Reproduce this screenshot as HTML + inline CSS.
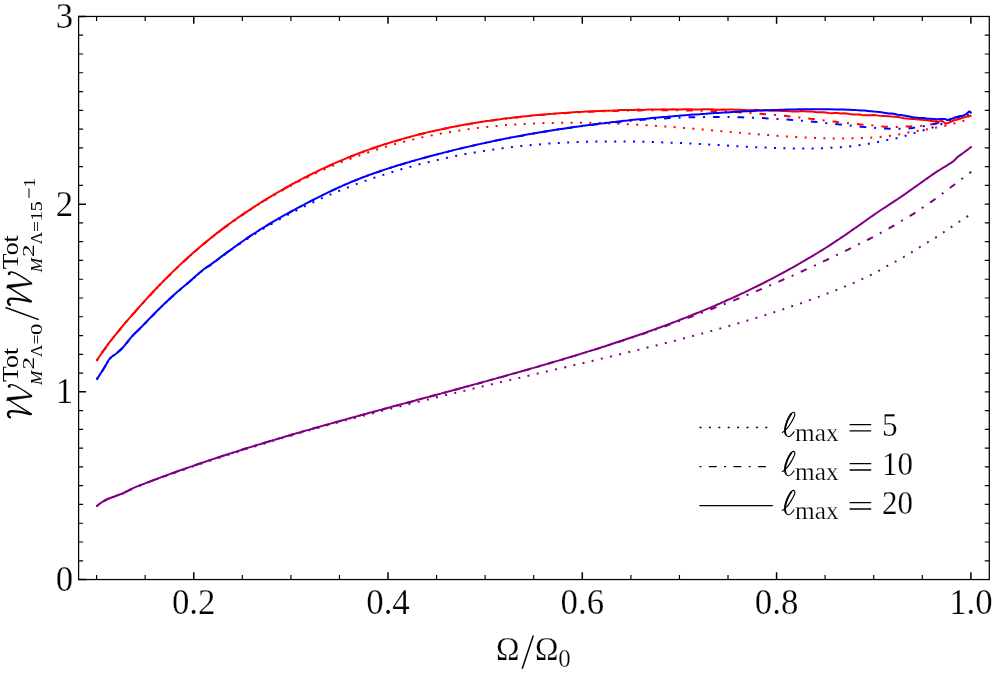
<!DOCTYPE html>
<html><head><meta charset="utf-8"><title>plot</title>
<style>
html,body{margin:0;padding:0;background:#fff;}
body{width:997px;height:677px;overflow:hidden;font-family:"Liberation Serif",serif;}
svg{display:block;will-change:transform;opacity:0.9999;}
svg text{font-family:"Liberation Serif",serif;fill:#000;stroke:#fff;stroke-width:0.25px;}
svg .ylab text{stroke:none;}
</style></head><body>
<svg width="997" height="677" viewBox="0 0 997 677">
<rect width="997" height="677" fill="#fff"/>
<g>
<path d="M96.6,360.7 L99.6,356.2 L102.6,351.8 L103.0,351.2 L105.6,347.6 L108.6,343.5 L111.1,340.2 L111.6,339.6 L114.6,335.8 L117.6,332.2 L120.1,329.2 L120.6,328.6 L123.6,324.9 L126.1,321.9 L126.6,321.3 L129.6,317.9 L131.2,316.1 L132.6,314.5 L135.6,311.1 L138.2,308.1 L138.6,307.7 L141.6,304.3 L143.0,302.8 L144.6,301.0 L146.1,299.4 L147.6,297.7 L150.0,295.1 L150.6,294.5 L153.6,291.3 L156.6,288.2 L159.6,285.1 L160.1,284.5 L162.6,282.0 L165.6,279.0 L168.6,276.0 L170.1,274.5 L171.6,273.1 L174.6,270.2 L177.6,267.3 L180.2,264.9 L180.6,264.5 L183.6,261.7 L186.6,259.0 L189.6,256.3 L190.2,255.8 L192.6,253.6 L195.6,251.0 L198.6,248.4 L200.2,247.1 L201.6,245.9 L204.6,243.4 L205.0,243.1 L207.6,241.0 L210.6,238.5 L213.6,236.1 L215.0,235.0 L216.6,233.8 L219.6,231.5 L222.6,229.2 L225.1,227.3 L225.6,227.0 L228.6,224.8 L231.6,222.6 L234.6,220.4 L235.1,220.1 L237.6,218.3 L240.6,216.3 L243.6,214.2 L245.2,213.1 L246.6,212.2 L249.6,210.2 L252.6,208.3 L255.2,206.6 L255.6,206.3 L258.6,204.5 L261.6,202.6 L264.6,200.7 L265.2,200.4 L267.6,198.9 L270.6,197.2 L273.6,195.4 L275.3,194.4 L276.6,193.7 L279.6,192.0 L282.6,190.3 L285.3,188.8 L285.6,188.6 L288.6,187.0 L291.6,185.4 L294.6,183.8 L295.4,183.4 L297.6,182.2 L300.0,181.0 L300.6,180.7 L303.6,179.2 L305.0,178.5 L306.6,177.7 L309.6,176.3 L310.0,176.1 L312.6,174.8 L315.6,173.4 L318.6,172.0 L320.1,171.3 L321.6,170.6 L324.6,169.3 L327.6,168.0 L330.1,166.9 L330.6,166.7 L333.6,165.4 L336.6,164.2 L339.6,162.9 L340.2,162.7 L342.6,161.7 L345.6,160.5 L348.6,159.4 L350.2,158.8 L351.6,158.2 L354.6,157.1 L357.6,156.0 L360.2,155.1 L360.6,154.9 L363.6,153.9 L366.6,152.9 L369.6,151.9 L370.3,151.6 L372.6,150.9 L375.6,149.9 L378.6,149.0 L380.3,148.4 L381.6,148.0 L384.6,147.1 L387.6,146.2 L390.4,145.4 L390.6,145.4 L393.6,144.5 L396.6,143.7 L399.6,142.9 L400.0,142.8 L402.6,142.1 L405.6,141.3 L408.6,140.6 L411.6,139.8 L414.3,139.2 L414.6,139.1 L417.6,138.4 L420.6,137.8 L423.6,137.1 L426.6,136.5 L429.6,135.8 L432.4,135.3 L432.6,135.2 L435.6,134.6 L438.6,134.1 L441.6,133.5 L444.6,133.0 L447.6,132.4 L450.6,131.9 L451.4,131.8 L453.6,131.4 L456.6,131.0 L459.6,130.5 L462.6,130.0 L465.6,129.6 L468.6,129.2 L469.5,129.1 L471.6,128.8 L474.6,128.4 L477.6,128.0 L480.6,127.7 L483.6,127.3 L486.6,127.0 L488.6,126.8 L489.6,126.7 L492.6,126.4 L495.6,126.1 L498.6,125.8 L501.6,125.5 L504.6,125.3 L506.7,125.1 L507.6,125.1 L510.6,124.8 L513.6,124.6 L516.6,124.4 L519.6,124.2 L522.6,124.0 L525.6,123.9 L525.7,123.9 L528.6,123.7 L531.6,123.6 L534.6,123.4 L537.6,123.3 L540.6,123.2 L543.6,123.1 L544.1,123.1 L546.6,123.0 L549.6,123.0 L552.6,122.9 L555.6,122.8 L558.6,122.8 L561.6,122.7 L563.2,122.7 L564.6,122.7 L567.6,122.7 L570.6,122.7 L573.6,122.7 L576.6,122.7 L579.6,122.8 L581.8,122.8 L582.6,122.8 L585.6,122.8 L588.6,122.8 L591.6,122.9 L594.6,123.0 L597.6,123.0 L600.3,123.1 L600.6,123.1 L603.6,123.2 L606.6,123.3 L609.6,123.4 L612.6,123.5 L615.6,123.6 L618.6,123.7 L619.4,123.8 L621.6,123.9 L624.6,124.0 L627.6,124.2 L630.6,124.3 L633.6,124.5 L636.6,124.6 L637.9,124.7 L639.6,124.8 L642.6,125.0 L645.6,125.2 L648.6,125.4 L651.6,125.6 L654.6,125.8 L656.5,125.9 L657.6,126.0 L660.6,126.2 L663.6,126.4 L666.6,126.6 L669.6,126.8 L672.6,127.0 L675.2,127.2 L675.6,127.3 L678.6,127.5 L681.6,127.8 L684.6,128.0 L687.6,128.2 L690.6,128.5 L693.6,128.7 L694.1,128.8 L696.6,129.0 L699.6,129.3 L702.6,129.5 L703.0,129.5 L705.6,129.8 L708.6,130.0 L711.6,130.3 L714.6,130.6 L717.6,130.8 L720.6,131.1 L722.1,131.2 L723.6,131.3 L726.6,131.6 L729.6,131.9 L732.6,132.1 L735.6,132.4 L738.6,132.7 L741.2,132.9 L741.6,132.9 L744.6,133.2 L747.6,133.4 L750.6,133.7 L753.6,133.9 L756.6,134.2 L759.6,134.4 L762.6,134.7 L765.6,134.9 L768.6,135.1 L771.6,135.4 L774.6,135.6 L777.6,135.8 L778.3,135.9 L780.6,136.0 L783.6,136.2 L786.6,136.4 L789.6,136.6 L792.6,136.8 L795.6,137.0 L797.0,137.0 L798.6,137.1 L801.6,137.3 L804.6,137.4 L807.6,137.6 L810.6,137.7 L813.6,137.8 L815.5,137.9 L816.6,137.9 L819.6,138.1 L822.6,138.2 L825.6,138.2 L828.6,138.3 L831.6,138.4 L833.9,138.4 L834.6,138.4 L837.6,138.4 L840.6,138.4 L843.6,138.4 L846.6,138.4 L849.6,138.3 L852.6,138.3 L855.6,138.3 L858.6,138.2 L861.6,138.1 L864.6,138.0 L867.6,137.9 L870.6,137.7 L870.7,137.7 L873.6,137.5 L876.6,137.3 L879.6,137.0 L880.0,137.0 L882.6,136.7 L885.6,136.4 L888.6,136.1 L889.1,136.0 L891.6,135.7 L894.6,135.2 L897.6,134.7 L898.6,134.5 L900.6,134.1 L903.6,133.5 L906.6,132.9 L907.9,132.6 L909.6,132.3 L912.6,131.7 L915.6,131.2 L917.0,131.0 L918.6,130.7 L921.6,130.3 L924.6,129.8 L926.0,129.6 L927.6,129.3 L930.6,128.7 L933.6,128.1 L935.1,127.8 L936.6,127.5 L939.6,126.9 L942.6,126.3 L944.2,126.0 L945.6,125.7 L948.6,124.9 L951.6,124.1 L953.3,123.6 L954.6,123.3 L957.6,122.5 L960.6,121.7 L962.4,121.2 L963.6,120.9 L966.6,120.1 L969.6,119.2 L971.2,118.8" stroke="#ff0000" stroke-width="2.0" fill="none" stroke-dasharray="2 7.385"/>
<path d="M96.7,379.5 L99.7,374.9 L102.7,370.2 L104.1,368.0 L105.7,365.3 L108.7,360.0 L110.1,358.2 L111.7,356.8 L114.7,354.8 L116.1,353.8 L117.7,352.4 L120.7,349.7 L123.1,347.3 L123.7,346.6 L126.7,343.0 L129.7,339.2 L132.2,336.2 L132.7,335.7 L135.7,332.6 L138.7,329.8 L140.2,328.3 L141.7,326.8 L144.7,323.7 L147.7,320.6 L150.2,318.1 L150.7,317.6 L153.7,314.5 L156.7,311.5 L159.7,308.5 L160.3,307.9 L162.7,305.6 L164.1,304.2 L165.7,302.7 L168.7,299.9 L170.1,298.6 L171.7,297.2 L174.7,294.5 L177.7,291.9 L180.2,289.7 L180.7,289.3 L183.7,286.7 L186.7,284.2 L189.7,281.7 L190.2,281.3 L192.7,279.1 L195.7,276.4 L198.2,274.3 L198.7,273.8 L201.7,271.3 L204.3,269.2 L204.7,268.9 L207.7,267.0 L210.3,265.3 L210.7,265.0 L213.7,262.8 L216.7,260.5 L219.7,258.2 L220.3,257.7 L222.7,255.9 L225.7,253.8 L228.7,251.6 L230.4,250.4 L231.7,249.5 L234.7,247.4 L237.7,245.3 L239.0,244.4 L240.7,243.3 L243.7,241.3 L245.2,240.3 L246.7,239.3 L249.7,237.3 L252.7,235.4 L255.2,233.8 L255.7,233.5 L258.7,231.6 L261.7,229.8 L264.7,228.0 L265.2,227.7 L267.7,226.2 L270.7,224.4 L273.7,222.7 L275.3,221.8 L276.7,221.0 L279.7,219.3 L282.7,217.7 L285.3,216.3 L285.7,216.0 L288.7,214.4 L291.7,212.9 L294.7,211.3 L295.4,210.9 L297.7,209.8 L300.7,208.3 L303.7,206.8 L305.0,206.1 L306.7,205.3 L309.7,203.9 L310.0,203.7 L312.7,202.5 L315.7,201.1 L318.7,199.7 L320.1,199.1 L321.7,198.3 L324.7,197.0 L327.7,195.7 L330.1,194.7 L330.7,194.4 L333.7,193.1 L336.7,191.9 L339.7,190.6 L340.2,190.4 L342.7,189.4 L345.7,188.2 L348.7,187.1 L350.2,186.5 L351.7,185.9 L354.7,184.8 L357.7,183.6 L360.2,182.7 L360.7,182.5 L363.7,181.5 L366.7,180.4 L369.7,179.3 L370.3,179.1 L372.7,178.3 L375.7,177.3 L378.7,176.3 L380.3,175.8 L381.7,175.3 L384.7,174.4 L387.7,173.4 L390.4,172.6 L390.7,172.5 L393.7,171.6 L396.7,170.7 L399.7,169.8 L400.0,169.7 L402.7,168.9 L405.7,168.1 L408.7,167.2 L410.7,166.7 L411.7,166.4 L414.7,165.6 L417.7,164.8 L420.7,164.0 L423.7,163.3 L426.7,162.5 L429.0,162.0 L429.7,161.8 L432.7,161.1 L435.7,160.4 L438.7,159.7 L441.7,159.0 L444.7,158.3 L447.4,157.7 L447.7,157.7 L450.7,157.1 L453.7,156.4 L456.7,155.8 L459.7,155.2 L462.7,154.7 L465.5,154.1 L465.7,154.1 L468.7,153.5 L471.7,153.0 L474.7,152.5 L477.7,152.0 L480.7,151.5 L483.7,151.0 L484.2,150.9 L486.7,150.5 L489.7,150.1 L492.7,149.6 L495.7,149.2 L498.7,148.8 L501.7,148.4 L502.7,148.2 L504.7,148.0 L507.7,147.6 L510.7,147.2 L513.7,146.9 L516.7,146.5 L519.7,146.2 L521.3,146.0 L522.7,145.9 L525.7,145.6 L528.7,145.3 L531.7,145.0 L534.7,144.7 L537.7,144.5 L540.1,144.3 L540.7,144.2 L543.7,144.0 L546.7,143.7 L549.7,143.5 L552.7,143.3 L555.7,143.1 L558.7,143.0 L558.8,143.0 L561.7,142.8 L564.7,142.6 L567.7,142.5 L570.7,142.3 L573.7,142.2 L576.7,142.1 L577.6,142.1 L579.7,142.0 L582.7,141.9 L585.7,141.8 L588.7,141.7 L591.7,141.6 L594.7,141.6 L596.3,141.5 L597.7,141.5 L600.7,141.5 L603.7,141.5 L606.7,141.4 L609.7,141.4 L612.7,141.4 L615.4,141.4 L615.7,141.4 L618.7,141.4 L621.7,141.4 L624.7,141.4 L627.7,141.5 L630.7,141.5 L633.7,141.6 L634.1,141.6 L636.7,141.6 L639.7,141.7 L642.7,141.7 L645.7,141.8 L648.7,141.9 L651.7,142.0 L652.9,142.0 L654.7,142.1 L657.7,142.2 L660.7,142.3 L663.7,142.4 L666.7,142.5 L669.7,142.6 L671.6,142.7 L672.7,142.7 L675.7,142.9 L678.7,143.0 L681.7,143.1 L684.7,143.3 L687.7,143.4 L690.3,143.6 L690.7,143.6 L693.7,143.7 L696.7,143.9 L699.7,144.0 L702.7,144.2 L705.7,144.4 L708.7,144.5 L709.2,144.6 L711.7,144.7 L714.7,144.9 L717.7,145.1 L718.7,145.1 L720.7,145.2 L723.7,145.4 L726.7,145.6 L729.7,145.7 L732.7,145.9 L735.7,146.1 L737.6,146.2 L738.7,146.3 L741.7,146.4 L744.7,146.6 L747.7,146.7 L750.7,146.9 L753.7,147.1 L756.2,147.2 L756.7,147.2 L759.7,147.3 L762.7,147.5 L765.7,147.6 L768.7,147.7 L771.7,147.9 L774.7,148.0 L774.9,148.0 L777.7,148.1 L780.7,148.2 L783.7,148.3 L786.7,148.4 L789.7,148.4 L792.7,148.4 L793.8,148.4 L795.7,148.4 L798.7,148.4 L801.7,148.4 L804.7,148.4 L807.7,148.4 L810.7,148.4 L812.4,148.4 L813.7,148.4 L816.7,148.4 L819.7,148.3 L822.7,148.2 L825.7,148.1 L828.7,147.9 L831.5,147.8 L831.7,147.8 L834.7,147.6 L837.7,147.4 L840.7,147.2 L843.7,146.9 L846.7,146.6 L849.7,146.4 L850.2,146.3 L852.7,146.0 L855.7,145.7 L858.7,145.3 L861.7,144.9 L864.7,144.5 L867.7,144.0 L868.7,143.8 L870.7,143.5 L873.7,142.9 L876.7,142.3 L878.1,142.0 L879.7,141.7 L882.7,141.1 L885.7,140.4 L887.3,140.1 L888.7,139.8 L891.7,139.2 L894.7,138.6 L896.7,138.2 L897.7,138.0 L900.7,137.2 L903.7,136.3 L905.7,135.7 L906.7,135.4 L909.7,134.5 L912.7,133.5 L914.8,132.9 L915.7,132.6 L918.7,131.7 L921.7,130.9 L923.6,130.3 L924.7,130.0 L927.7,129.1 L930.7,128.2 L932.7,127.5 L933.7,127.1 L936.7,126.0 L939.7,124.8 L941.2,124.2 L942.7,123.6 L945.7,122.3 L948.7,121.0 L950.0,120.5 L951.7,119.8 L954.7,118.7 L957.7,117.7 L960.0,117.0 L960.7,116.8 L963.7,116.0 L966.7,115.4 L969.7,114.8 L971.5,114.5" stroke="#0000ff" stroke-width="2.0" fill="none" stroke-dasharray="2 7.41"/>
<path d="M96.5,506.5 L99.5,504.2 L102.5,502.1 L105.5,500.3 L107.1,499.5 L108.5,498.9 L111.5,497.8 L114.5,496.7 L115.1,496.5 L117.5,495.6 L120.5,494.5 L123.1,493.5 L123.5,493.3 L126.5,491.8 L129.5,490.1 L132.2,488.8 L132.5,488.6 L135.5,487.3 L138.5,486.1 L140.2,485.4 L141.5,484.9 L144.5,483.7 L147.5,482.6 L150.2,481.6 L150.5,481.4 L153.5,480.3 L156.5,479.3 L159.5,478.2 L160.3,477.9 L162.5,477.1 L165.5,476.0 L168.5,474.9 L170.3,474.3 L171.5,473.9 L174.5,472.8 L177.5,471.8 L180.4,470.8 L180.5,470.7 L183.5,469.7 L186.5,468.6 L189.5,467.6 L190.0,467.4 L192.5,466.6 L195.5,465.6 L198.5,464.5 L201.5,463.5 L202.5,463.2 L204.5,462.5 L207.5,461.5 L210.5,460.5 L213.5,459.5 L216.5,458.6 L219.5,457.6 L220.6,457.2 L222.5,456.6 L225.5,455.6 L228.5,454.7 L231.5,453.7 L234.5,452.8 L237.5,451.8 L240.5,450.9 L240.6,450.8 L243.5,449.9 L246.5,449.0 L249.5,448.1 L252.5,447.1 L255.5,446.2 L258.5,445.3 L260.7,444.6 L261.5,444.4 L264.5,443.5 L267.5,442.6 L270.5,441.7 L273.5,440.8 L276.5,439.9 L279.5,439.0 L280.0,438.8 L282.5,438.1 L285.5,437.2 L288.5,436.3 L290.1,435.9 L291.5,435.5 L294.5,434.6 L297.5,433.7 L300.5,432.9 L303.5,432.0 L306.5,431.2 L309.5,430.3 L310.2,430.1 L312.5,429.5 L315.5,428.6 L318.5,427.8 L321.5,427.0 L324.5,426.2 L327.5,425.3 L330.2,424.6 L330.5,424.5 L333.5,423.7 L336.5,422.9 L339.5,422.1 L342.5,421.3 L345.5,420.4 L348.5,419.6 L350.3,419.2 L351.5,418.8 L354.5,418.0 L357.5,417.3 L360.5,416.5 L363.5,415.7 L366.5,414.9 L369.5,414.1 L370.4,413.9 L372.5,413.3 L375.5,412.6 L378.5,411.8 L381.5,411.0 L384.5,410.3 L387.5,409.5 L390.5,408.7 L393.5,408.0 L396.5,407.2 L399.5,406.5 L402.5,405.7 L405.5,405.0 L408.5,404.2 L410.6,403.7 L411.5,403.5 L414.5,402.7 L417.5,402.0 L420.5,401.3 L423.5,400.5 L426.5,399.8 L429.5,399.1 L430.6,398.8 L432.5,398.3 L435.5,397.6 L438.5,396.9 L441.5,396.2 L444.5,395.4 L447.5,394.7 L450.5,394.0 L450.7,393.9 L453.5,393.3 L456.5,392.6 L459.5,391.8 L462.5,391.1 L464.4,390.7 L465.5,390.4 L468.5,389.7 L471.5,389.0 L474.5,388.3 L477.5,387.6 L480.5,386.9 L483.1,386.3 L483.5,386.2 L486.5,385.5 L489.5,384.8 L492.5,384.1 L495.5,383.4 L498.5,382.7 L501.2,382.0 L501.5,382.0 L504.5,381.3 L507.5,380.6 L510.5,379.9 L513.5,379.2 L516.5,378.5 L519.5,377.8 L519.6,377.8 L522.5,377.1 L525.5,376.4 L528.5,375.7 L531.5,375.0 L534.5,374.3 L537.5,373.6 L537.9,373.5 L540.5,372.9 L543.5,372.2 L546.5,371.5 L549.5,370.8 L552.5,370.1 L555.5,369.4 L556.4,369.2 L558.5,368.7 L561.5,368.0 L564.5,367.4 L567.5,366.7 L570.5,366.0 L573.5,365.3 L574.5,365.0 L576.5,364.6 L579.5,363.9 L582.5,363.2 L585.5,362.5 L588.5,361.8 L591.5,361.0 L592.9,360.7 L594.5,360.3 L597.5,359.6 L600.5,358.9 L603.5,358.2 L606.5,357.5 L609.5,356.8 L611.0,356.4 L612.5,356.1 L615.5,355.4 L618.5,354.6 L621.5,353.9 L624.5,353.2 L627.5,352.5 L629.3,352.0 L630.5,351.8 L633.5,351.0 L636.5,350.3 L639.5,349.6 L642.5,348.8 L645.5,348.1 L647.7,347.5 L648.5,347.3 L651.5,346.6 L654.5,345.9 L656.8,345.3 L657.5,345.1 L660.5,344.3 L663.5,343.6 L666.5,342.8 L669.5,342.1 L672.5,341.3 L675.0,340.7 L675.5,340.5 L678.5,339.8 L681.5,339.0 L684.5,338.2 L687.5,337.4 L690.5,336.6 L693.0,335.9 L693.5,335.8 L696.5,335.0 L699.5,334.2 L702.5,333.4 L705.5,332.6 L708.5,331.8 L711.0,331.1 L711.5,330.9 L714.5,330.1 L717.5,329.3 L720.5,328.4 L723.5,327.6 L726.5,326.7 L729.4,325.9 L729.5,325.8 L732.5,325.0 L735.5,324.1 L738.4,323.3 L738.5,323.2 L741.5,322.3 L744.5,321.4 L747.4,320.6 L747.5,320.5 L750.5,319.6 L753.5,318.7 L756.5,317.8 L759.5,316.9 L762.5,315.9 L765.5,315.0 L768.5,314.0 L771.5,313.1 L774.5,312.1 L777.5,311.1 L780.5,310.1 L783.5,309.2 L783.6,309.1 L786.5,308.2 L789.5,307.1 L792.5,306.1 L792.6,306.1 L795.5,305.1 L798.5,304.0 L801.5,303.0 L801.6,303.0 L804.5,301.9 L807.5,300.9 L810.5,299.8 L810.7,299.7 L813.5,298.7 L816.5,297.6 L819.3,296.6 L819.5,296.5 L822.5,295.4 L825.5,294.2 L828.2,293.2 L828.5,293.1 L831.5,291.9 L834.5,290.8 L837.2,289.7 L837.5,289.6 L840.5,288.4 L843.5,287.2 L846.5,285.9 L849.5,284.7 L852.5,283.4 L853.7,282.9 L855.5,282.1 L858.5,280.8 L861.5,279.4 L864.5,278.0 L867.5,276.6 L870.5,275.1 L873.5,273.6 L876.5,272.0 L879.5,270.3 L882.5,268.6 L885.5,266.9 L887.4,265.9 L888.5,265.3 L891.5,263.7 L894.5,262.1 L895.4,261.6 L897.5,260.5 L900.5,258.8 L903.5,257.2 L903.8,257.0 L906.5,255.4 L909.5,253.6 L911.9,252.1 L912.5,251.7 L915.5,249.8 L918.5,247.9 L919.9,247.0 L921.5,246.0 L924.5,244.2 L927.5,242.4 L927.9,242.2 L930.5,240.7 L933.5,238.9 L936.0,237.4 L936.5,237.1 L939.5,235.1 L942.5,233.0 L944.0,232.0 L945.5,231.0 L948.5,228.9 L951.5,226.9 L951.6,226.8 L954.5,224.9 L957.5,222.9 L959.6,221.5 L960.5,220.9 L963.5,218.9 L966.5,216.9 L967.5,216.3 L969.5,215.1 L971.5,213.9" stroke="#800080" stroke-width="2.0" fill="none" stroke-dasharray="2 7.41"/>
<path d="M96.6,360.9 L99.6,356.4 L102.6,352.0 L103.0,351.4 L105.6,347.8 L108.6,343.7 L111.1,340.4 L111.6,339.8 L114.6,336.0 L117.6,332.3 L120.1,329.3 L120.6,328.7 L123.6,325.0 L126.1,322.0 L126.6,321.5 L129.6,318.1 L131.2,316.3 L132.6,314.7 L135.6,311.3 L138.2,308.3 L138.6,307.9 L141.6,304.5 L143.0,303.0 L144.6,301.2 L146.1,299.6 L147.6,297.9 L150.0,295.3 L150.6,294.7 L153.6,291.5 L156.6,288.3 L159.6,285.2 L160.1,284.7 L162.6,282.1 L165.6,279.1 L168.6,276.1 L170.1,274.6 L171.6,273.1 L174.6,270.2 L177.6,267.3 L180.2,264.8 L180.6,264.5 L183.6,261.7 L186.6,258.9 L189.6,256.2 L190.2,255.7 L192.6,253.5 L195.6,250.9 L198.6,248.3 L200.2,246.9 L201.6,245.7 L204.6,243.2 L205.0,242.9 L207.6,240.8 L210.6,238.3 L213.6,236.0 L215.0,234.8 L216.6,233.6 L219.6,231.3 L222.6,229.0 L225.1,227.1 L225.6,226.8 L228.6,224.5 L231.6,222.4 L234.6,220.2 L235.1,219.9 L237.6,218.1 L240.6,216.0 L243.6,214.0 L245.2,212.9 L246.6,212.0 L249.6,210.0 L252.6,208.0 L255.2,206.3 L255.6,206.1 L258.6,204.2 L261.6,202.3 L264.6,200.4 L265.2,200.1 L267.6,198.6 L270.6,196.8 L273.6,195.0 L275.3,194.0 L276.6,193.2 L279.6,191.5 L282.6,189.8 L285.3,188.2 L285.6,188.1 L288.6,186.4 L291.6,184.7 L294.6,183.1 L295.4,182.7 L297.6,181.5 L300.0,180.2 L300.6,179.9 L303.6,178.3 L305.0,177.6 L306.6,176.8 L309.6,175.2 L310.0,175.0 L312.6,173.8 L315.6,172.3 L318.6,170.8 L320.1,170.1 L321.6,169.4 L324.6,168.0 L327.6,166.6 L330.1,165.5 L330.6,165.2 L333.6,163.9 L336.6,162.6 L339.6,161.3 L340.2,161.0 L342.6,160.0 L345.6,158.8 L348.6,157.5 L350.2,156.9 L351.6,156.3 L354.6,155.2 L357.6,154.0 L360.2,153.0 L360.6,152.9 L363.6,151.7 L366.6,150.6 L369.6,149.6 L370.3,149.3 L372.6,148.5 L375.6,147.5 L378.6,146.5 L380.3,145.9 L381.6,145.5 L384.6,144.5 L387.6,143.5 L390.4,142.7 L390.6,142.6 L393.6,141.7 L396.6,140.8 L399.6,139.9 L400.0,139.8 L402.6,139.1 L405.6,138.2 L408.6,137.4 L411.6,136.6 L414.6,135.8 L417.6,135.0 L420.3,134.3 L420.6,134.2 L423.6,133.5 L426.6,132.8 L429.6,132.1 L432.6,131.4 L435.6,130.7 L438.6,130.0 L440.4,129.6 L441.6,129.4 L444.6,128.7 L447.6,128.1 L450.6,127.5 L453.6,126.9 L456.6,126.3 L459.6,125.8 L460.5,125.6 L462.6,125.2 L465.6,124.7 L468.6,124.2 L471.6,123.6 L474.6,123.1 L477.6,122.7 L480.6,122.2 L483.6,121.7 L486.6,121.3 L489.6,120.8 L492.6,120.4 L495.6,120.0 L498.6,119.6 L500.6,119.3 L501.6,119.2 L504.6,118.8 L507.6,118.4 L510.6,118.1 L513.6,117.7 L516.6,117.4 L519.6,117.0 L520.4,117.0 L522.6,116.7 L525.6,116.4 L528.6,116.1 L531.6,115.8 L534.6,115.5 L537.6,115.3 L540.1,115.0 L540.6,115.0 L543.6,114.7 L546.6,114.5 L549.6,114.3 L552.6,114.0 L555.6,113.8 L558.6,113.6 L560.2,113.5 L561.6,113.4 L564.6,113.2 L567.6,113.0 L570.6,112.8 L573.6,112.6 L576.6,112.5 L579.6,112.3 L580.2,112.3 L582.6,112.1 L585.6,112.0 L588.6,111.8 L591.6,111.7 L594.6,111.6 L597.6,111.5 L600.3,111.4 L600.6,111.3 L603.6,111.2 L606.6,111.1 L609.6,111.0 L612.6,110.9 L615.6,110.9 L618.6,110.8 L620.4,110.7 L621.6,110.7 L624.6,110.6 L627.6,110.6 L630.6,110.5 L633.6,110.5 L636.6,110.4 L639.6,110.4 L640.5,110.4 L642.6,110.3 L645.6,110.3 L648.6,110.3 L651.6,110.3 L654.6,110.3 L657.6,110.2 L660.6,110.2 L663.6,110.2 L666.6,110.2 L669.6,110.3 L672.6,110.3 L675.6,110.3 L678.6,110.3 L680.6,110.4 L681.6,110.4 L684.6,110.4 L687.6,110.4 L690.6,110.5 L693.6,110.6 L696.6,110.6 L699.6,110.7 L700.0,110.7 L702.6,110.8 L705.6,110.9 L708.6,111.0 L711.6,111.1 L714.6,111.2 L717.6,111.3 L720.0,111.4 L720.6,111.4 L723.6,111.5 L726.6,111.7 L729.6,111.8 L732.6,111.9 L735.6,112.1 L738.6,112.3 L740.2,112.4 L741.6,112.4 L744.6,112.6 L747.6,112.8 L750.6,113.0 L753.6,113.2 L756.6,113.4 L759.6,113.7 L760.2,113.7 L762.6,113.9 L765.6,114.2 L768.6,114.4 L771.6,114.7 L774.6,114.9 L777.6,115.2 L780.3,115.5 L780.6,115.5 L783.6,115.8 L786.6,116.1 L789.6,116.4 L792.6,116.7 L795.6,117.1 L798.6,117.4 L800.4,117.6 L801.6,117.7 L804.6,118.1 L807.6,118.4 L810.6,118.8 L813.6,119.1 L816.6,119.5 L819.6,119.8 L820.5,119.9 L822.6,120.2 L825.6,120.5 L828.6,120.9 L831.6,121.3 L834.6,121.6 L837.6,122.0 L840.6,122.3 L843.6,122.6 L846.6,123.0 L849.6,123.3 L852.6,123.6 L855.6,123.9 L858.6,124.2 L860.6,124.4 L861.6,124.5 L864.6,124.7 L867.6,125.0 L870.6,125.2 L873.6,125.5 L876.6,125.7 L877.0,125.8 L879.6,126.1 L882.6,126.5 L885.0,126.7 L885.6,126.7 L888.6,126.9 L891.6,127.0 L894.6,127.0 L895.0,127.0 L897.6,126.9 L900.6,126.8 L903.6,126.6 L905.0,126.5 L906.6,126.5 L909.6,126.4 L912.6,126.3 L915.6,126.3 L917.0,126.2 L918.6,126.1 L921.6,125.8 L924.6,125.5 L927.6,125.1 L928.0,125.0 L930.6,124.5 L933.6,123.9 L936.6,123.4 L938.0,123.3 L939.6,123.3 L942.6,123.4 L945.6,123.4 L946.6,123.4 L948.6,122.9 L950.9,121.8 L951.6,121.5 L954.6,120.1 L955.7,119.7 L957.6,119.1 L960.6,118.4 L961.8,118.1 L963.6,117.5 L966.6,116.6 L967.8,116.3 L969.6,116.0 L971.5,115.7" stroke="#ff0000" stroke-width="2.0" fill="none" stroke-dasharray="2 8 6.6 7.9"/>
<path d="M96.7,379.6 L99.7,375.0 L102.7,370.3 L104.1,368.1 L105.7,365.3 L108.7,360.1 L110.1,358.3 L111.7,356.9 L114.7,354.8 L116.1,353.8 L117.7,352.4 L120.7,349.7 L123.1,347.3 L123.7,346.7 L126.7,343.0 L129.7,339.2 L132.2,336.2 L132.7,335.7 L135.7,332.6 L138.7,329.8 L140.2,328.3 L141.7,326.8 L144.7,323.7 L147.7,320.6 L150.2,318.0 L150.7,317.5 L153.7,314.5 L156.7,311.4 L159.7,308.4 L160.3,307.8 L162.7,305.5 L164.1,304.1 L165.7,302.6 L168.7,299.8 L170.1,298.5 L171.7,297.1 L174.7,294.4 L177.7,291.7 L180.2,289.6 L180.7,289.1 L183.7,286.6 L186.7,284.1 L189.7,281.5 L190.2,281.1 L192.7,278.9 L195.7,276.2 L198.2,274.1 L198.7,273.6 L201.7,271.0 L204.3,268.9 L204.7,268.6 L207.7,266.7 L210.3,265.1 L210.7,264.8 L213.7,262.6 L216.7,260.3 L219.7,258.0 L220.3,257.6 L222.7,255.8 L225.7,253.6 L228.7,251.3 L230.4,250.1 L231.7,249.1 L234.7,246.9 L237.7,244.8 L239.0,243.8 L240.7,242.6 L243.7,240.5 L245.2,239.5 L246.7,238.5 L249.7,236.5 L252.7,234.5 L255.2,232.8 L255.7,232.5 L258.7,230.6 L261.7,228.7 L264.7,226.9 L265.2,226.6 L267.7,225.1 L270.7,223.3 L273.7,221.5 L275.3,220.6 L276.7,219.8 L279.7,218.0 L282.7,216.3 L285.3,214.9 L285.7,214.7 L288.7,213.0 L291.7,211.3 L294.7,209.7 L295.4,209.3 L297.7,208.1 L300.7,206.5 L303.7,204.9 L305.0,204.2 L306.7,203.3 L309.7,201.7 L310.0,201.6 L312.7,200.2 L315.7,198.7 L318.7,197.1 L320.1,196.4 L321.7,195.6 L324.7,194.2 L327.7,192.7 L330.1,191.5 L330.7,191.2 L333.7,189.8 L336.7,188.4 L339.7,187.0 L340.2,186.8 L342.7,185.7 L345.7,184.4 L348.7,183.1 L350.2,182.5 L351.7,181.8 L354.7,180.6 L357.7,179.4 L360.2,178.5 L360.7,178.3 L363.7,177.1 L366.7,176.0 L369.7,174.9 L370.3,174.7 L372.7,173.8 L375.7,172.8 L378.7,171.8 L380.3,171.2 L381.7,170.7 L384.7,169.7 L387.7,168.8 L390.4,167.9 L390.7,167.8 L393.7,166.9 L396.7,165.9 L399.7,165.0 L400.0,164.9 L402.7,164.1 L405.7,163.2 L408.7,162.3 L411.7,161.4 L414.7,160.6 L417.7,159.7 L420.3,159.0 L420.7,158.9 L423.7,158.0 L426.7,157.2 L429.7,156.4 L432.7,155.6 L435.7,154.8 L438.7,154.0 L440.4,153.5 L441.7,153.2 L444.7,152.4 L447.7,151.7 L450.7,150.9 L453.7,150.2 L456.7,149.4 L459.7,148.7 L460.5,148.5 L462.7,148.0 L465.7,147.3 L468.7,146.6 L471.7,145.9 L474.7,145.2 L477.7,144.6 L480.6,143.9 L480.7,143.9 L483.7,143.2 L486.7,142.6 L489.7,141.9 L492.7,141.3 L495.7,140.7 L498.7,140.1 L500.6,139.7 L501.7,139.5 L504.7,138.9 L507.7,138.3 L510.7,137.7 L513.7,137.1 L516.7,136.6 L519.7,136.0 L520.4,135.9 L522.7,135.4 L525.7,134.9 L528.7,134.4 L531.7,133.8 L534.7,133.3 L537.7,132.8 L540.1,132.4 L540.7,132.3 L543.7,131.8 L546.7,131.3 L549.7,130.8 L552.7,130.3 L555.7,129.9 L558.7,129.4 L560.2,129.2 L561.7,129.0 L564.7,128.5 L567.7,128.1 L570.7,127.7 L573.7,127.2 L576.7,126.8 L579.7,126.4 L580.2,126.4 L582.7,126.0 L585.7,125.6 L588.7,125.3 L591.7,124.9 L594.7,124.5 L597.7,124.2 L600.3,123.9 L600.7,123.8 L603.7,123.5 L606.7,123.1 L609.7,122.8 L612.7,122.5 L615.7,122.2 L618.7,121.9 L620.4,121.7 L621.7,121.6 L624.7,121.3 L627.7,121.0 L630.7,120.8 L633.7,120.5 L636.7,120.3 L639.7,120.0 L640.5,120.0 L642.7,119.8 L645.7,119.6 L648.7,119.3 L651.7,119.1 L654.7,118.9 L657.7,118.8 L660.6,118.6 L660.7,118.6 L663.7,118.4 L666.7,118.3 L669.7,118.1 L672.7,118.0 L675.7,117.8 L678.7,117.7 L680.6,117.6 L681.7,117.6 L684.7,117.5 L687.7,117.4 L690.7,117.3 L693.7,117.2 L696.7,117.2 L699.7,117.1 L700.0,117.1 L702.7,117.1 L705.7,117.1 L708.7,117.0 L711.7,117.0 L714.7,117.0 L717.7,117.0 L720.1,117.0 L720.7,117.0 L723.7,117.0 L726.7,117.1 L729.7,117.1 L732.7,117.2 L735.7,117.2 L738.7,117.3 L740.2,117.3 L741.7,117.3 L744.7,117.4 L747.7,117.5 L750.7,117.6 L753.7,117.8 L756.7,117.9 L759.7,118.0 L760.2,118.0 L762.7,118.1 L765.7,118.3 L768.7,118.4 L771.7,118.6 L774.7,118.8 L777.7,119.0 L780.3,119.1 L780.7,119.2 L783.7,119.4 L786.7,119.6 L789.7,119.8 L792.7,120.0 L795.7,120.2 L798.7,120.5 L800.4,120.6 L801.7,120.7 L804.7,121.0 L807.7,121.2 L810.7,121.5 L813.7,121.8 L816.7,122.1 L819.7,122.3 L820.5,122.4 L822.7,122.6 L825.7,123.0 L828.7,123.3 L831.7,123.6 L834.7,123.9 L837.7,124.3 L840.6,124.6 L840.7,124.6 L843.7,124.9 L846.7,125.3 L849.7,125.6 L852.7,125.9 L855.7,126.3 L858.7,126.6 L860.6,126.7 L861.7,126.8 L864.7,127.1 L867.7,127.4 L870.7,127.6 L873.7,127.8 L876.7,128.1 L879.7,128.2 L880.7,128.3 L882.7,128.4 L885.7,128.6 L888.7,128.7 L889.0,128.7 L891.7,128.7 L894.7,128.7 L897.7,128.7 L898.8,128.7 L900.7,128.7 L903.7,128.6 L906.7,128.5 L908.5,128.4 L909.7,128.3 L912.7,128.0 L915.7,127.5 L915.8,127.5 L918.7,127.1 L921.7,126.5 L923.0,126.3 L924.7,126.0 L927.7,125.4 L930.7,124.8 L931.5,124.6 L933.7,124.1 L936.7,123.2 L938.8,122.6 L939.7,122.3 L942.7,121.1 L944.8,120.5 L945.7,120.4 L947.2,120.2 L948.7,119.8 L949.7,119.4 L951.7,118.6 L954.5,117.5 L954.7,117.4 L957.7,116.8 L960.7,116.3 L961.8,116.0 L963.7,115.4 L966.6,113.9 L966.7,113.8 L969.0,111.7 L969.7,111.8 L971.5,113.1" stroke="#0000ff" stroke-width="2.0" fill="none" stroke-dasharray="2 8 6.6 7.9"/>
<path d="M96.5,506.3 L99.5,504.0 L102.5,501.9 L105.5,500.1 L107.1,499.3 L108.5,498.7 L111.5,497.6 L114.5,496.5 L115.1,496.3 L117.5,495.4 L120.5,494.3 L123.1,493.3 L123.5,493.1 L126.5,491.6 L129.5,490.1 L132.2,488.7 L132.5,488.6 L135.5,487.3 L138.5,486.1 L140.2,485.4 L141.5,484.9 L144.5,483.7 L147.5,482.5 L150.2,481.5 L150.5,481.4 L153.5,480.3 L156.5,479.1 L159.5,478.0 L160.3,477.7 L162.5,476.9 L165.5,475.8 L168.5,474.7 L170.3,474.0 L171.5,473.6 L174.5,472.5 L177.5,471.4 L180.4,470.4 L180.5,470.3 L183.5,469.3 L186.5,468.2 L189.5,467.2 L190.0,467.0 L192.5,466.1 L195.5,465.1 L198.5,464.0 L201.5,463.0 L202.5,462.7 L204.5,462.0 L207.5,461.0 L210.5,460.0 L213.5,459.0 L216.5,458.0 L219.5,457.0 L220.6,456.6 L222.5,456.0 L225.5,455.0 L228.5,454.1 L231.5,453.1 L234.5,452.1 L237.5,451.2 L240.5,450.2 L240.6,450.2 L243.5,449.3 L246.5,448.3 L249.5,447.4 L252.5,446.5 L255.5,445.6 L258.5,444.6 L260.7,444.0 L261.5,443.7 L264.5,442.8 L267.5,441.9 L270.5,441.0 L273.5,440.1 L276.5,439.2 L279.5,438.3 L280.0,438.2 L282.5,437.4 L285.5,436.6 L288.5,435.7 L290.1,435.2 L291.5,434.8 L294.5,433.9 L297.5,433.1 L300.5,432.2 L303.5,431.3 L306.5,430.5 L309.5,429.6 L310.2,429.4 L312.5,428.8 L315.5,427.9 L318.5,427.1 L321.5,426.2 L324.5,425.4 L327.5,424.5 L330.2,423.8 L330.5,423.7 L333.5,422.9 L336.5,422.0 L339.5,421.2 L342.5,420.4 L345.5,419.5 L348.5,418.7 L350.3,418.2 L351.5,417.9 L354.5,417.1 L357.5,416.2 L360.5,415.4 L363.5,414.6 L366.5,413.8 L369.5,413.0 L370.4,412.7 L372.5,412.2 L375.5,411.4 L378.5,410.5 L381.5,409.7 L384.5,408.9 L387.5,408.1 L390.5,407.3 L393.5,406.5 L396.5,405.7 L399.5,404.9 L402.5,404.1 L405.5,403.3 L408.5,402.5 L410.6,401.9 L411.5,401.7 L414.5,400.9 L417.5,400.0 L420.5,399.2 L423.5,398.4 L426.5,397.6 L429.5,396.8 L430.6,396.5 L432.5,396.0 L435.5,395.2 L438.5,394.4 L441.5,393.6 L444.5,392.8 L447.5,392.0 L450.5,391.1 L450.7,391.1 L453.5,390.3 L456.5,389.5 L459.5,388.7 L462.5,387.9 L465.5,387.1 L468.5,386.2 L470.0,385.8 L471.5,385.4 L474.5,384.6 L477.5,383.8 L480.1,383.1 L480.5,383.0 L483.5,382.1 L486.5,381.3 L489.5,380.5 L492.5,379.6 L495.5,378.8 L498.5,378.0 L500.2,377.5 L501.5,377.1 L504.5,376.3 L507.5,375.4 L510.5,374.6 L513.5,373.7 L516.5,372.9 L519.5,372.0 L520.2,371.8 L522.5,371.2 L525.5,370.3 L528.5,369.5 L531.5,368.6 L534.5,367.7 L537.5,366.9 L540.3,366.0 L540.5,366.0 L543.5,365.1 L546.5,364.2 L549.5,363.3 L552.5,362.4 L555.5,361.6 L558.5,360.7 L560.4,360.1 L561.5,359.8 L564.5,358.9 L567.5,358.0 L570.5,357.1 L573.5,356.1 L576.5,355.2 L579.5,354.3 L580.5,354.0 L582.5,353.4 L585.5,352.4 L588.5,351.5 L591.5,350.6 L594.5,349.6 L597.5,348.7 L600.5,347.7 L600.6,347.7 L603.5,346.8 L606.5,345.8 L609.5,344.9 L612.5,343.9 L615.5,342.9 L618.5,342.0 L620.6,341.3 L621.5,341.0 L624.5,340.0 L627.5,339.0 L630.5,338.0 L633.5,337.0 L636.5,336.0 L639.5,335.0 L640.7,334.6 L642.5,334.0 L645.5,333.0 L648.5,331.9 L651.5,330.9 L654.5,329.9 L657.5,328.8 L660.0,327.9 L660.5,327.8 L663.5,326.7 L666.5,325.7 L669.5,324.6 L670.1,324.4 L672.5,323.5 L675.5,322.4 L678.5,321.4 L681.5,320.3 L684.5,319.2 L687.5,318.1 L690.2,317.1 L690.5,317.0 L693.5,315.9 L696.5,314.8 L699.5,313.6 L702.5,312.5 L705.5,311.4 L708.5,310.2 L711.5,309.1 L712.3,308.8 L714.5,307.9 L717.5,306.8 L720.5,305.6 L723.5,304.4 L726.5,303.2 L729.5,302.1 L732.5,300.9 L735.5,299.7 L736.4,299.3 L738.5,298.5 L741.5,297.3 L744.5,296.0 L747.5,294.8 L750.5,293.6 L753.5,292.3 L756.5,291.1 L759.5,289.8 L762.5,288.6 L765.5,287.3 L768.5,286.0 L771.5,284.7 L774.5,283.5 L777.5,282.2 L780.5,280.9 L781.6,280.4 L783.5,279.5 L786.5,278.2 L789.5,276.9 L792.5,275.6 L795.5,274.2 L798.5,272.9 L801.5,271.5 L803.7,270.5 L804.5,270.2 L807.5,268.8 L810.5,267.4 L813.5,266.0 L815.1,265.3 L816.5,264.6 L819.5,263.2 L822.5,261.8 L825.5,260.4 L825.7,260.3 L828.5,259.0 L831.5,257.5 L834.5,256.1 L837.5,254.6 L840.5,253.2 L843.5,251.7 L846.5,250.3 L849.5,248.8 L852.5,247.4 L855.5,245.9 L858.5,244.4 L858.9,244.2 L861.5,242.9 L864.5,241.4 L867.5,239.9 L870.3,238.5 L870.5,238.4 L873.5,236.8 L876.5,235.1 L879.5,233.5 L880.6,232.9 L882.5,231.9 L885.5,230.3 L888.5,228.6 L891.4,227.0 L891.5,226.9 L894.5,225.2 L897.5,223.4 L900.5,221.5 L901.9,220.7 L903.5,219.8 L906.5,218.0 L909.5,216.2 L912.5,214.4 L913.5,213.8 L915.5,212.5 L918.5,210.4 L921.5,208.3 L922.6,207.6 L924.5,206.3 L927.5,204.4 L930.5,202.4 L933.5,200.3 L936.5,198.1 L939.5,195.8 L942.5,193.6 L942.6,193.5 L945.5,191.3 L948.5,189.1 L951.5,186.8 L953.6,185.2 L954.5,184.5 L957.5,182.2 L960.5,179.9 L962.0,178.8 L963.5,177.7 L966.5,175.4 L969.5,173.1 L971.3,171.8" stroke="#800080" stroke-width="2.0" fill="none" stroke-dasharray="2 8 6.6 7.9" stroke-dashoffset="1.3"/>
<path d="M96.6,360.7 L99.6,356.2 L102.6,351.8 L103.0,351.2 L105.6,347.6 L108.6,343.5 L111.1,340.2 L111.6,339.6 L114.6,335.8 L117.6,332.1 L120.1,329.1 L120.6,328.5 L123.6,324.8 L126.1,321.8 L126.6,321.3 L129.6,317.9 L131.2,316.1 L132.6,314.5 L135.6,311.0 L138.2,308.1 L138.6,307.7 L141.6,304.3 L143.0,302.8 L144.6,301.0 L146.1,299.4 L147.6,297.7 L150.0,295.1 L150.6,294.5 L153.6,291.3 L156.6,288.1 L159.6,285.0 L160.1,284.5 L162.6,281.9 L165.6,278.9 L168.6,275.9 L170.1,274.4 L171.6,272.9 L174.6,270.0 L177.6,267.1 L180.2,264.6 L180.6,264.3 L183.6,261.5 L186.6,258.7 L189.6,256.0 L190.2,255.5 L192.6,253.3 L195.6,250.7 L198.6,248.1 L200.2,246.8 L201.6,245.6 L204.6,243.1 L205.0,242.7 L207.6,240.6 L210.6,238.2 L213.6,235.8 L215.0,234.7 L216.6,233.4 L219.6,231.1 L222.6,228.8 L225.1,226.9 L225.6,226.6 L228.6,224.4 L231.6,222.2 L234.6,220.0 L235.1,219.7 L237.6,217.9 L240.6,215.9 L243.6,213.8 L245.2,212.7 L246.6,211.8 L249.6,209.8 L252.6,207.8 L255.2,206.1 L255.6,205.9 L258.6,204.0 L261.6,202.1 L264.6,200.2 L265.2,199.9 L267.6,198.4 L270.6,196.6 L273.6,194.8 L275.3,193.8 L276.6,193.0 L279.6,191.3 L282.6,189.5 L285.3,188.0 L285.6,187.8 L288.6,186.2 L291.6,184.5 L294.6,182.9 L295.4,182.4 L297.6,181.3 L300.0,180.0 L300.6,179.7 L303.6,178.1 L305.0,177.4 L306.6,176.6 L309.6,175.0 L310.0,174.8 L312.6,173.5 L315.6,172.1 L318.6,170.6 L320.1,169.9 L321.6,169.2 L324.6,167.8 L327.6,166.4 L330.1,165.2 L330.6,165.0 L333.6,163.7 L336.6,162.4 L339.6,161.1 L340.2,160.8 L342.6,159.8 L345.6,158.6 L348.6,157.3 L350.2,156.7 L351.6,156.1 L354.6,154.9 L357.6,153.8 L360.2,152.8 L360.6,152.7 L363.6,151.5 L366.6,150.4 L369.6,149.4 L370.3,149.1 L372.6,148.3 L375.6,147.3 L378.6,146.3 L380.3,145.7 L381.6,145.3 L384.6,144.3 L387.6,143.4 L390.4,142.5 L390.6,142.4 L393.6,141.5 L396.6,140.6 L399.6,139.7 L400.0,139.6 L402.6,138.9 L405.6,138.0 L408.6,137.2 L411.6,136.4 L414.6,135.6 L417.6,134.8 L420.3,134.1 L420.6,134.1 L423.6,133.3 L426.6,132.6 L429.6,131.9 L432.6,131.2 L435.6,130.5 L438.6,129.9 L440.4,129.5 L441.6,129.2 L444.6,128.6 L447.6,128.0 L450.6,127.3 L453.6,126.8 L456.6,126.2 L459.6,125.6 L460.5,125.4 L462.6,125.1 L465.6,124.5 L468.6,124.0 L471.6,123.5 L474.6,123.0 L477.6,122.5 L480.6,122.0 L483.6,121.6 L486.6,121.1 L489.6,120.7 L492.6,120.2 L495.6,119.8 L498.6,119.4 L500.6,119.2 L501.6,119.0 L504.6,118.6 L507.6,118.3 L510.6,117.9 L513.6,117.5 L516.6,117.2 L519.6,116.9 L520.4,116.8 L522.6,116.5 L525.6,116.2 L528.6,115.9 L531.6,115.6 L534.6,115.3 L537.6,115.0 L540.1,114.8 L540.6,114.8 L543.6,114.5 L546.6,114.3 L549.6,114.0 L552.6,113.8 L555.6,113.5 L558.6,113.3 L560.2,113.2 L561.6,113.1 L564.6,112.9 L567.6,112.7 L570.6,112.5 L573.6,112.3 L576.6,112.1 L579.6,112.0 L580.2,111.9 L582.6,111.8 L585.6,111.6 L588.6,111.5 L591.6,111.3 L594.6,111.2 L597.6,111.1 L600.3,111.0 L600.6,110.9 L603.6,110.8 L606.6,110.8 L609.6,110.7 L612.6,110.6 L615.6,110.4 L618.6,110.2 L620.4,110.1 L621.6,110.1 L624.6,110.0 L627.6,109.9 L630.6,110.0 L633.6,109.9 L636.6,109.7 L639.6,109.6 L640.5,109.8 L642.6,109.9 L645.6,109.7 L648.6,109.5 L651.6,109.6 L654.6,109.4 L657.6,109.6 L660.6,109.5 L663.6,109.3 L666.6,109.4 L669.6,109.4 L672.6,109.3 L675.6,109.5 L678.6,109.5 L680.6,109.6 L681.6,109.5 L684.6,109.2 L687.6,109.3 L690.6,109.3 L693.6,109.5 L696.6,109.4 L699.6,109.4 L700.4,109.5 L702.6,109.2 L705.6,109.3 L708.6,109.2 L711.6,109.2 L714.6,109.5 L717.6,109.7 L720.1,109.8 L720.6,109.7 L723.6,109.6 L726.6,109.8 L729.6,109.4 L732.6,109.4 L735.6,109.8 L738.6,109.8 L740.2,109.8 L741.6,110.0 L744.6,110.0 L747.6,110.2 L750.6,110.2 L753.6,109.9 L756.6,109.8 L759.6,110.1 L760.2,110.5 L762.6,110.3 L765.6,110.1 L768.6,110.4 L771.6,110.7 L774.6,110.7 L777.6,110.8 L780.3,110.8 L780.6,111.1 L783.6,111.0 L786.6,110.9 L789.6,111.3 L792.6,111.4 L795.6,111.5 L798.6,111.4 L800.4,111.2 L801.6,111.1 L804.6,111.3 L807.6,111.4 L810.6,111.5 L813.6,111.8 L816.6,112.3 L819.6,112.2 L820.5,112.2 L822.6,112.2 L825.6,112.4 L828.6,113.0 L831.6,113.2 L834.6,113.0 L837.6,113.0 L840.6,113.4 L843.6,113.3 L846.6,113.5 L849.6,114.0 L852.6,114.4 L855.6,114.6 L858.6,114.5 L860.6,114.6 L861.6,114.9 L864.6,115.2 L867.6,115.3 L870.6,115.2 L873.6,115.0 L876.6,115.2 L877.0,115.4 L879.6,115.7 L882.6,115.9 L885.6,116.0 L888.6,116.3 L889.1,116.3 L891.6,116.6 L894.6,116.8 L897.6,117.1 L900.6,117.4 L901.2,117.6 L903.6,118.2 L906.6,118.5 L909.6,118.8 L912.6,118.9 L913.3,118.8 L915.6,119.2 L918.6,119.4 L921.6,119.8 L924.6,120.0 L925.4,120.1 L927.6,120.2 L930.6,120.7 L933.6,121.3 L936.6,121.3 L937.5,121.4 L939.6,121.3 L942.4,121.1 L942.6,121.4 L945.6,123.5 L946.6,123.5 L948.6,122.9 L950.9,121.7 L951.6,121.5 L954.6,119.9 L955.7,119.7 L957.6,119.4 L960.6,118.5 L961.8,118.0 L963.6,117.6 L966.6,116.6 L967.8,116.4 L969.6,116.0 L971.5,115.5" stroke="#ff0000" stroke-width="2.0" fill="none"/>
<path d="M96.7,379.5 L99.7,374.9 L102.7,370.2 L104.1,368.0 L105.7,365.2 L108.7,360.0 L110.1,358.2 L111.7,356.8 L114.7,354.7 L116.1,353.7 L117.7,352.3 L120.7,349.6 L123.1,347.2 L123.7,346.6 L126.7,342.9 L129.7,339.1 L132.2,336.1 L132.7,335.6 L135.7,332.5 L138.7,329.7 L140.2,328.2 L141.7,326.7 L144.7,323.6 L147.7,320.5 L150.2,317.9 L150.7,317.4 L153.7,314.4 L156.7,311.3 L159.7,308.3 L160.3,307.7 L162.7,305.4 L164.1,304.0 L165.7,302.5 L168.7,299.7 L170.1,298.4 L171.7,297.0 L174.7,294.3 L177.7,291.6 L180.2,289.5 L180.7,289.0 L183.7,286.5 L186.7,284.0 L189.7,281.4 L190.2,281.0 L192.7,278.8 L195.7,276.1 L198.2,274.0 L198.7,273.5 L201.7,270.9 L204.3,268.8 L204.7,268.5 L207.7,266.6 L210.3,264.9 L210.7,264.6 L213.7,262.4 L216.7,260.2 L219.7,257.9 L220.3,257.4 L222.7,255.6 L225.7,253.4 L228.7,251.2 L230.4,250.0 L231.7,249.0 L234.7,246.9 L237.7,244.7 L239.0,243.8 L240.7,242.6 L243.7,240.5 L245.2,239.5 L246.7,238.4 L249.7,236.4 L252.7,234.4 L255.2,232.8 L255.7,232.5 L258.7,230.5 L261.7,228.6 L264.7,226.8 L265.2,226.5 L267.7,224.9 L270.7,223.1 L273.7,221.4 L275.3,220.4 L276.7,219.6 L279.7,217.9 L282.7,216.2 L285.3,214.7 L285.7,214.5 L288.7,212.8 L291.7,211.2 L294.7,209.6 L295.4,209.2 L297.7,207.9 L300.7,206.3 L303.7,204.8 L305.0,204.1 L306.7,203.2 L309.7,201.6 L310.0,201.5 L312.7,200.1 L315.7,198.6 L318.7,197.1 L320.1,196.4 L321.7,195.6 L324.7,194.1 L327.7,192.6 L330.1,191.5 L330.7,191.2 L333.7,189.8 L336.7,188.4 L339.7,187.0 L340.2,186.8 L342.7,185.7 L345.7,184.4 L348.7,183.1 L350.2,182.4 L351.7,181.8 L354.7,180.6 L357.7,179.4 L360.2,178.4 L360.7,178.2 L363.7,177.0 L366.7,175.9 L369.7,174.8 L370.3,174.6 L372.7,173.7 L375.7,172.6 L378.7,171.6 L380.3,171.0 L381.7,170.6 L384.7,169.6 L387.7,168.6 L390.4,167.7 L390.7,167.6 L393.7,166.7 L396.7,165.7 L399.7,164.8 L400.0,164.7 L402.7,163.9 L405.7,163.0 L408.7,162.2 L411.7,161.3 L414.7,160.4 L417.7,159.6 L420.3,158.9 L420.7,158.8 L423.7,157.9 L426.7,157.1 L429.7,156.3 L432.7,155.5 L435.7,154.7 L438.7,153.9 L440.4,153.5 L441.7,153.2 L444.7,152.4 L447.7,151.6 L450.7,150.9 L453.7,150.1 L456.7,149.4 L459.7,148.7 L460.5,148.5 L462.7,148.0 L465.7,147.3 L468.7,146.6 L471.7,145.9 L474.7,145.2 L477.7,144.5 L480.6,143.9 L480.7,143.8 L483.7,143.2 L486.7,142.5 L489.7,141.9 L492.7,141.3 L495.7,140.6 L498.7,140.0 L500.6,139.6 L501.7,139.4 L504.7,138.8 L507.7,138.2 L510.7,137.6 L513.7,137.1 L516.7,136.5 L519.7,135.9 L520.4,135.8 L522.7,135.4 L525.7,134.8 L528.7,134.3 L531.7,133.8 L534.7,133.2 L537.7,132.7 L540.1,132.3 L540.7,132.2 L543.7,131.7 L546.7,131.2 L549.7,130.7 L552.7,130.2 L555.7,129.8 L558.7,129.3 L560.2,129.1 L561.7,128.9 L564.7,128.4 L567.7,128.0 L570.7,127.5 L573.7,127.1 L576.7,126.7 L579.7,126.3 L580.2,126.2 L582.7,125.8 L585.7,125.4 L588.7,125.0 L591.7,124.7 L594.7,124.3 L597.7,123.9 L600.3,123.6 L600.7,123.5 L603.7,123.2 L606.7,122.8 L609.7,122.5 L612.7,122.1 L615.7,121.8 L618.7,121.4 L620.4,121.2 L621.7,121.1 L624.7,120.8 L627.7,120.5 L630.7,120.1 L633.7,119.8 L636.7,119.5 L639.7,119.2 L640.5,119.2 L642.7,118.9 L645.7,118.7 L648.7,118.4 L651.7,118.1 L654.7,117.8 L657.7,117.6 L660.6,117.3 L660.7,117.3 L663.7,117.0 L666.7,116.8 L669.7,116.5 L672.7,116.3 L675.7,116.0 L678.7,115.8 L680.6,115.6 L681.7,115.5 L684.7,115.3 L687.7,115.1 L690.7,114.8 L693.7,114.6 L696.7,114.4 L699.7,114.2 L700.4,114.1 L702.7,114.0 L705.7,113.8 L708.7,113.5 L711.7,113.3 L714.7,113.1 L717.7,112.9 L720.1,112.8 L720.7,112.8 L723.7,112.6 L726.7,112.4 L729.7,112.2 L732.7,112.0 L735.7,111.8 L738.7,111.7 L740.2,111.6 L741.7,111.5 L744.7,111.3 L747.7,111.2 L750.7,111.0 L753.7,110.9 L756.7,110.7 L759.7,110.6 L760.2,110.6 L762.7,110.5 L765.7,110.3 L768.7,110.2 L771.7,110.1 L774.7,110.0 L777.7,109.9 L780.3,109.8 L780.7,109.8 L783.7,109.7 L786.7,109.6 L789.7,109.5 L792.7,109.4 L795.7,109.4 L798.7,109.3 L800.4,109.3 L801.7,109.3 L804.7,109.3 L807.7,109.2 L810.7,109.2 L813.7,109.2 L816.7,109.2 L819.7,109.2 L820.5,109.2 L822.7,109.2 L825.7,109.2 L828.7,109.3 L831.7,109.3 L834.7,109.4 L837.7,109.4 L840.6,109.5 L840.7,109.5 L843.7,109.6 L846.7,109.7 L849.7,109.8 L852.7,109.9 L855.7,110.1 L858.7,110.2 L860.6,110.4 L861.7,110.4 L864.7,110.6 L867.7,110.9 L870.7,111.2 L873.7,111.5 L876.7,111.7 L877.0,111.8 L879.7,112.0 L882.7,112.5 L885.7,112.9 L888.7,113.4 L889.1,113.4 L891.7,113.6 L894.7,114.0 L897.7,114.7 L900.7,115.0 L901.2,114.9 L903.7,115.4 L906.7,116.0 L909.7,116.6 L912.7,117.2 L913.3,117.3 L915.7,117.6 L918.7,118.0 L921.7,118.0 L924.7,118.1 L925.4,118.3 L927.7,118.7 L930.7,118.7 L933.7,118.9 L936.7,119.2 L937.5,119.3 L939.7,119.1 L942.7,119.0 L944.8,119.1 L945.7,119.3 L947.2,120.0 L948.7,119.7 L949.7,119.3 L951.7,118.8 L954.5,117.6 L954.7,117.4 L957.7,116.9 L960.7,116.1 L961.8,115.9 L963.7,115.5 L966.6,113.9 L966.7,113.8 L969.0,111.5 L969.7,111.7 L971.5,113.2" stroke="#0000ff" stroke-width="2.0" fill="none"/>
<path d="M96.5,506.2 L99.5,503.9 L102.5,501.8 L105.5,500.0 L107.1,499.2 L108.5,498.6 L111.5,497.5 L114.5,496.4 L115.1,496.2 L117.5,495.3 L120.5,494.2 L123.1,493.2 L123.5,493.0 L126.5,491.5 L129.5,489.9 L132.2,488.6 L132.5,488.4 L135.5,487.1 L138.5,485.9 L140.2,485.2 L141.5,484.7 L144.5,483.6 L147.5,482.4 L150.2,481.4 L150.5,481.3 L153.5,480.1 L156.5,479.0 L159.5,477.9 L160.3,477.6 L162.5,476.8 L165.5,475.7 L168.5,474.6 L170.3,473.9 L171.5,473.5 L174.5,472.4 L177.5,471.3 L180.4,470.3 L180.5,470.3 L183.5,469.2 L186.5,468.1 L189.5,467.1 L190.0,466.9 L192.5,466.1 L195.5,465.0 L198.5,464.0 L201.5,463.0 L202.5,462.6 L204.5,462.0 L207.5,460.9 L210.5,459.9 L213.5,458.9 L216.5,458.0 L219.5,457.0 L220.6,456.6 L222.5,456.0 L225.5,455.0 L228.5,454.0 L231.5,453.1 L234.5,452.1 L237.5,451.2 L240.5,450.2 L240.6,450.2 L243.5,449.3 L246.5,448.3 L249.5,447.4 L252.5,446.5 L255.5,445.5 L258.5,444.6 L260.7,444.0 L261.5,443.7 L264.5,442.8 L267.5,441.9 L270.5,441.0 L273.5,440.1 L276.5,439.2 L279.5,438.3 L280.0,438.1 L282.5,437.4 L285.5,436.5 L288.5,435.6 L290.1,435.2 L291.5,434.8 L294.5,433.9 L297.5,433.0 L300.5,432.1 L303.5,431.3 L306.5,430.4 L309.5,429.6 L310.2,429.4 L312.5,428.7 L315.5,427.8 L318.5,427.0 L321.5,426.1 L324.5,425.3 L327.5,424.5 L330.2,423.7 L330.5,423.6 L333.5,422.8 L336.5,421.9 L339.5,421.1 L342.5,420.3 L345.5,419.4 L348.5,418.6 L350.3,418.1 L351.5,417.8 L354.5,417.0 L357.5,416.1 L360.5,415.3 L363.5,414.5 L366.5,413.7 L369.5,412.8 L370.4,412.6 L372.5,412.0 L375.5,411.2 L378.5,410.4 L381.5,409.6 L384.5,408.8 L387.5,408.0 L390.5,407.1 L393.5,406.3 L396.5,405.5 L399.5,404.7 L402.5,403.9 L405.5,403.1 L408.5,402.3 L410.6,401.7 L411.5,401.5 L414.5,400.7 L417.5,399.8 L420.5,399.0 L423.5,398.2 L426.5,397.4 L429.5,396.6 L430.6,396.3 L432.5,395.8 L435.5,395.0 L438.5,394.2 L441.5,393.4 L444.5,392.5 L447.5,391.7 L450.5,390.9 L450.7,390.9 L453.5,390.1 L456.5,389.3 L459.5,388.5 L462.5,387.7 L465.5,386.8 L468.5,386.0 L470.0,385.6 L471.5,385.2 L474.5,384.4 L477.5,383.6 L480.1,382.8 L480.5,382.7 L483.5,381.9 L486.5,381.1 L489.5,380.2 L492.5,379.4 L495.5,378.6 L498.5,377.7 L500.2,377.3 L501.5,376.9 L504.5,376.1 L507.5,375.2 L510.5,374.4 L513.5,373.5 L516.5,372.7 L519.5,371.9 L520.2,371.7 L522.5,371.0 L525.5,370.1 L528.5,369.3 L531.5,368.4 L534.5,367.6 L537.5,366.7 L540.3,365.9 L540.5,365.8 L543.5,365.0 L546.5,364.1 L549.5,363.2 L552.5,362.3 L555.5,361.4 L558.5,360.6 L560.4,360.0 L561.5,359.7 L564.5,358.8 L567.5,357.9 L570.5,357.0 L573.5,356.1 L576.5,355.1 L579.5,354.2 L580.5,353.9 L582.5,353.3 L585.5,352.4 L588.5,351.4 L591.5,350.5 L594.5,349.6 L597.5,348.6 L600.5,347.7 L600.6,347.6 L603.5,346.7 L606.5,345.7 L609.5,344.8 L612.5,343.8 L615.5,342.8 L618.5,341.8 L620.6,341.1 L621.5,340.8 L624.5,339.8 L627.5,338.8 L630.5,337.8 L633.5,336.8 L636.5,335.7 L639.5,334.7 L640.7,334.3 L642.5,333.6 L645.5,332.6 L648.5,331.5 L651.5,330.5 L654.5,329.4 L657.5,328.3 L660.5,327.2 L661.0,327.0 L663.5,326.1 L666.5,325.0 L669.5,323.9 L672.5,322.7 L675.5,321.6 L678.5,320.4 L680.2,319.8 L681.5,319.3 L684.5,318.1 L687.5,316.9 L690.5,315.7 L693.5,314.5 L696.5,313.3 L699.5,312.1 L700.2,311.8 L702.5,310.9 L705.5,309.6 L708.5,308.3 L711.5,307.1 L714.5,305.8 L717.5,304.5 L720.3,303.3 L720.5,303.2 L723.5,301.9 L726.5,300.5 L729.5,299.2 L732.5,297.8 L735.5,296.5 L738.5,295.1 L740.4,294.2 L741.5,293.7 L744.5,292.3 L747.5,290.8 L750.5,289.4 L753.5,287.9 L756.5,286.5 L759.5,285.0 L760.5,284.5 L762.5,283.5 L765.5,282.0 L768.5,280.4 L771.5,278.9 L774.5,277.3 L777.5,275.7 L780.5,274.1 L780.6,274.1 L783.5,272.5 L786.5,270.9 L789.5,269.2 L792.5,267.6 L795.5,265.9 L798.5,264.2 L798.8,264.0 L801.5,262.4 L804.5,260.7 L807.5,258.9 L810.5,257.2 L813.5,255.4 L816.5,253.5 L819.0,252.0 L819.5,251.7 L822.5,249.8 L825.5,248.0 L828.5,246.1 L831.5,244.1 L834.5,242.2 L837.5,240.2 L838.6,239.5 L840.5,238.2 L843.5,236.2 L846.5,234.1 L849.5,232.0 L852.5,229.9 L855.5,227.8 L857.2,226.7 L858.5,225.7 L861.5,223.6 L864.5,221.5 L867.5,219.3 L870.5,217.2 L873.5,215.1 L876.5,213.0 L877.3,212.5 L879.5,211.0 L882.5,209.0 L885.5,207.1 L888.5,205.1 L891.5,203.2 L894.5,201.2 L897.4,199.3 L897.5,199.2 L900.5,197.2 L903.5,195.1 L906.5,193.0 L909.5,190.9 L912.5,188.7 L915.5,186.6 L917.5,185.2 L918.5,184.5 L921.5,182.4 L924.5,180.2 L927.5,178.1 L930.5,176.0 L933.5,173.9 L936.5,171.9 L937.6,171.2 L939.5,170.0 L942.5,168.2 L945.5,166.4 L947.6,165.0 L948.5,164.4 L951.5,162.6 L953.6,161.1 L954.5,160.2 L957.5,157.1 L957.6,157.1 L960.5,154.9 L963.5,152.7 L965.7,151.1 L966.5,150.5 L969.5,148.2 L971.7,146.5" stroke="#800080" stroke-width="2.0" fill="none"/>
</g>
<rect x="78.6" y="16.45" width="910.7" height="563.1" fill="none" stroke="#000" stroke-width="1.25"/>
<path d="M193.74,579.55 v-7.4 M193.74,16.45 v7.4 M388.02,579.55 v-7.4 M388.02,16.45 v7.4 M582.30,579.55 v-7.4 M582.30,16.45 v7.4 M776.58,579.55 v-7.4 M776.58,16.45 v7.4 M970.86,579.55 v-7.4 M970.86,16.45 v7.4 M78.6,579.55 h7.4 M78.6,391.85 h7.4 M78.6,204.15 h7.4 M78.6,16.45 h7.4" stroke="#000" stroke-width="1.5" fill="none"/>
<path d="M96.60,579.55 v-4.5 M96.60,16.45 v4.5 M145.17,579.55 v-4.5 M145.17,16.45 v4.5 M242.31,579.55 v-4.5 M242.31,16.45 v4.5 M290.88,579.55 v-4.5 M290.88,16.45 v4.5 M339.45,579.55 v-4.5 M339.45,16.45 v4.5 M436.59,579.55 v-4.5 M436.59,16.45 v4.5 M485.16,579.55 v-4.5 M485.16,16.45 v4.5 M533.73,579.55 v-4.5 M533.73,16.45 v4.5 M630.87,579.55 v-4.5 M630.87,16.45 v4.5 M679.44,579.55 v-4.5 M679.44,16.45 v4.5 M728.01,579.55 v-4.5 M728.01,16.45 v4.5 M825.15,579.55 v-4.5 M825.15,16.45 v4.5 M873.72,579.55 v-4.5 M873.72,16.45 v4.5 M922.29,579.55 v-4.5 M922.29,16.45 v4.5 M78.6,560.78 h4.5 M989.3,560.78 h-4.5 M78.6,542.01 h4.5 M989.3,542.01 h-4.5 M78.6,523.24 h4.5 M989.3,523.24 h-4.5 M78.6,504.47 h4.5 M989.3,504.47 h-4.5 M78.6,485.70 h4.5 M989.3,485.70 h-4.5 M78.6,466.93 h4.5 M989.3,466.93 h-4.5 M78.6,448.16 h4.5 M989.3,448.16 h-4.5 M78.6,429.39 h4.5 M989.3,429.39 h-4.5 M78.6,410.62 h4.5 M989.3,410.62 h-4.5 M989.3,391.85 h-4.5 M78.6,373.08 h4.5 M989.3,373.08 h-4.5 M78.6,354.31 h4.5 M989.3,354.31 h-4.5 M78.6,335.54 h4.5 M989.3,335.54 h-4.5 M78.6,316.77 h4.5 M989.3,316.77 h-4.5 M78.6,298.00 h4.5 M989.3,298.00 h-4.5 M78.6,279.23 h4.5 M989.3,279.23 h-4.5 M78.6,260.46 h4.5 M989.3,260.46 h-4.5 M78.6,241.69 h4.5 M989.3,241.69 h-4.5 M78.6,222.92 h4.5 M989.3,222.92 h-4.5 M989.3,204.15 h-4.5 M78.6,185.38 h4.5 M989.3,185.38 h-4.5 M78.6,166.61 h4.5 M989.3,166.61 h-4.5 M78.6,147.84 h4.5 M989.3,147.84 h-4.5 M78.6,129.07 h4.5 M989.3,129.07 h-4.5 M78.6,110.30 h4.5 M989.3,110.30 h-4.5 M78.6,91.53 h4.5 M989.3,91.53 h-4.5 M78.6,72.76 h4.5 M989.3,72.76 h-4.5 M78.6,53.99 h4.5 M989.3,53.99 h-4.5 M78.6,35.22 h4.5 M989.3,35.22 h-4.5" stroke="#000" stroke-width="1.2" fill="none"/>
<text x="193.7" y="613.8" text-anchor="middle" font-size="34.8" textLength="43.5" lengthAdjust="spacingAndGlyphs">0.2</text>
<text x="388.0" y="613.8" text-anchor="middle" font-size="34.8" textLength="43.5" lengthAdjust="spacingAndGlyphs">0.4</text>
<text x="582.3" y="613.8" text-anchor="middle" font-size="34.8" textLength="43.5" lengthAdjust="spacingAndGlyphs">0.6</text>
<text x="776.6" y="613.8" text-anchor="middle" font-size="34.8" textLength="43.5" lengthAdjust="spacingAndGlyphs">0.8</text>
<text x="970.9" y="613.8" text-anchor="middle" font-size="34.8" textLength="43.5" lengthAdjust="spacingAndGlyphs">1.0</text>
<text x="73.2" y="591.0" text-anchor="end" font-size="34.8">0</text>
<text x="73.2" y="403.4" text-anchor="end" font-size="34.8">1</text>
<text x="73.2" y="215.7" text-anchor="end" font-size="34.8">2</text>
<text x="73.2" y="28.0" text-anchor="end" font-size="34.8">3</text>
<path d="M699.5,427.5 H768" stroke="#000" stroke-width="1.35" stroke-dasharray="2 7.4" fill="none"/>
<path d="M699.5,466.6 H768" stroke="#000" stroke-width="1.35" stroke-dasharray="2 7.4 7.8 7.4" fill="none"/>
<path d="M699.4,505.6 H772.8" stroke="#000" stroke-width="1.35" fill="none"/>
<g transform="translate(0,0.0)" fill="none" stroke="#000">
<path d="M781.9,432.7 C785,431 789,426.5 791.5,422 C793.5,418.5 795.3,415.5 794.8,413.6 C794.4,411.9 793.0,411.8 791.6,413.4 C788.5,417 785.2,424.5 785.0,430 C784.9,434 786.3,436.6 788.6,436.6 C790.6,436.6 792.5,434.2 794.3,431.4" stroke-width="1.15"/>
<path d="M791.6,413.4 C788.5,417 785.2,424.5 785.0,430 C784.95,432 785.3,433.8 786.0,434.9" stroke-width="1.9"/>
</g>
<text x="795.0" y="441.2" font-size="24.5" textLength="43.6" lengthAdjust="spacingAndGlyphs">max</text>
<path d="M849.6,424.6 H871.2 M849.6,430.9 H871.2" stroke="#000" stroke-width="1.3" fill="none"/>
<text x="882.0" y="435.6" font-size="34.5" textLength="15.6" lengthAdjust="spacingAndGlyphs">5</text>
<g transform="translate(0,39.1)" fill="none" stroke="#000">
<path d="M781.9,432.7 C785,431 789,426.5 791.5,422 C793.5,418.5 795.3,415.5 794.8,413.6 C794.4,411.9 793.0,411.8 791.6,413.4 C788.5,417 785.2,424.5 785.0,430 C784.9,434 786.3,436.6 788.6,436.6 C790.6,436.6 792.5,434.2 794.3,431.4" stroke-width="1.15"/>
<path d="M791.6,413.4 C788.5,417 785.2,424.5 785.0,430 C784.95,432 785.3,433.8 786.0,434.9" stroke-width="1.9"/>
</g>
<text x="795.0" y="480.3" font-size="24.5" textLength="43.6" lengthAdjust="spacingAndGlyphs">max</text>
<path d="M849.6,463.7 H871.2 M849.6,470.0 H871.2" stroke="#000" stroke-width="1.3" fill="none"/>
<text x="882.0" y="474.7" font-size="34.5" textLength="31.0" lengthAdjust="spacingAndGlyphs">10</text>
<g transform="translate(0,78.1)" fill="none" stroke="#000">
<path d="M781.9,432.7 C785,431 789,426.5 791.5,422 C793.5,418.5 795.3,415.5 794.8,413.6 C794.4,411.9 793.0,411.8 791.6,413.4 C788.5,417 785.2,424.5 785.0,430 C784.9,434 786.3,436.6 788.6,436.6 C790.6,436.6 792.5,434.2 794.3,431.4" stroke-width="1.15"/>
<path d="M791.6,413.4 C788.5,417 785.2,424.5 785.0,430 C784.95,432 785.3,433.8 786.0,434.9" stroke-width="1.9"/>
</g>
<text x="795.0" y="519.3" font-size="24.5" textLength="43.6" lengthAdjust="spacingAndGlyphs">max</text>
<path d="M849.6,502.7 H871.2 M849.6,509.0 H871.2" stroke="#000" stroke-width="1.3" fill="none"/>
<text x="882.0" y="513.7" font-size="34.5" textLength="31.0" lengthAdjust="spacingAndGlyphs">20</text>
<text x="496" y="660.4" font-size="34.6" textLength="23.5" lengthAdjust="spacingAndGlyphs">Ω</text>
<path d="M533.3,635.6 L522.2,668.8" stroke="#000" stroke-width="1.5" fill="none"/>
<text x="535" y="660.4" font-size="34.6" textLength="23.5" lengthAdjust="spacingAndGlyphs">Ω</text>
<text x="558.2" y="666.6" font-size="25">0</text>
<g class="ylab" transform="translate(31.3,417.9) rotate(-90)"><g transform="translate(0,0)">
<path d="M0.3,-20.4 C1.0,-23.6 4.9,-24.6 6.5,-21.2 C7.7,-18.4 6.2,-12 3.7,0.3" stroke="#000" stroke-width="2.3" fill="none"/>
<path d="M3.6,0.5 L18.9,-24.0" stroke="#000" stroke-width="1.4" fill="none"/>
<path d="M17.1,-24.7 L20.4,-23.9 L22.5,0.6 L21.0,0.6 Z" fill="#000" stroke="#000" stroke-width="0.4"/>
<path d="M21.8,0.5 C25.5,-4.5 29.3,-10.6 31.4,-14.4 C33.6,-18.4 34.0,-21.2 32.2,-22.7" stroke="#000" stroke-width="1.35" fill="none"/>
<circle cx="31.5" cy="-22.1" r="1.45" fill="#000"/>
</g>
<text x="36.0" y="-12.9" font-size="24" textLength="34" lengthAdjust="spacingAndGlyphs">Tot</text>
<text x="33.0" y="10.9" font-size="17.5" font-style="italic" textLength="14.2" lengthAdjust="spacingAndGlyphs">M</text><text x="48.4" y="2.5" font-size="17.5" textLength="12.6" lengthAdjust="spacingAndGlyphs">2</text><text x="61.0" y="10.9" font-size="17.5" textLength="12.3" lengthAdjust="spacingAndGlyphs">Λ</text>
<text x="73.6" y="10.9" font-size="17.5" textLength="9.5" lengthAdjust="spacingAndGlyphs">=</text>
<text x="83.0" y="10.9" font-size="17.5" textLength="11.4" lengthAdjust="spacingAndGlyphs">0</text>
<path d="M98.3,7.4 L110.4,-25.7" stroke="#000" stroke-width="1.5" fill="none"/>
<g transform="translate(112.6,0)">
<path d="M0.3,-20.4 C1.0,-23.6 4.9,-24.6 6.5,-21.2 C7.7,-18.4 6.2,-12 3.7,0.3" stroke="#000" stroke-width="2.3" fill="none"/>
<path d="M3.6,0.5 L18.9,-24.0" stroke="#000" stroke-width="1.4" fill="none"/>
<path d="M17.1,-24.7 L20.4,-23.9 L22.5,0.6 L21.0,0.6 Z" fill="#000" stroke="#000" stroke-width="0.4"/>
<path d="M21.8,0.5 C25.5,-4.5 29.3,-10.6 31.4,-14.4 C33.6,-18.4 34.0,-21.2 32.2,-22.7" stroke="#000" stroke-width="1.35" fill="none"/>
<circle cx="31.5" cy="-22.1" r="1.45" fill="#000"/>
</g>
<text x="148.6" y="-12.9" font-size="24" textLength="34" lengthAdjust="spacingAndGlyphs">Tot</text>
<text x="145.6" y="10.9" font-size="17.5" font-style="italic" textLength="14.2" lengthAdjust="spacingAndGlyphs">M</text><text x="161.0" y="2.5" font-size="17.5" textLength="12.6" lengthAdjust="spacingAndGlyphs">2</text><text x="173.6" y="10.9" font-size="17.5" textLength="12.3" lengthAdjust="spacingAndGlyphs">Λ</text>
<text x="186.0" y="10.9" font-size="17.5" textLength="11.0" lengthAdjust="spacingAndGlyphs">=</text>
<text x="196.8" y="10.9" font-size="17.5" textLength="19.8" lengthAdjust="spacingAndGlyphs">15</text>
<path d="M220.0,-2.3 H229.6" stroke="#000" stroke-width="1" fill="none"/>
<text x="230.3" y="3.9" font-size="17.5" textLength="9.5" lengthAdjust="spacingAndGlyphs">1</text></g>
</svg>
</body></html>
